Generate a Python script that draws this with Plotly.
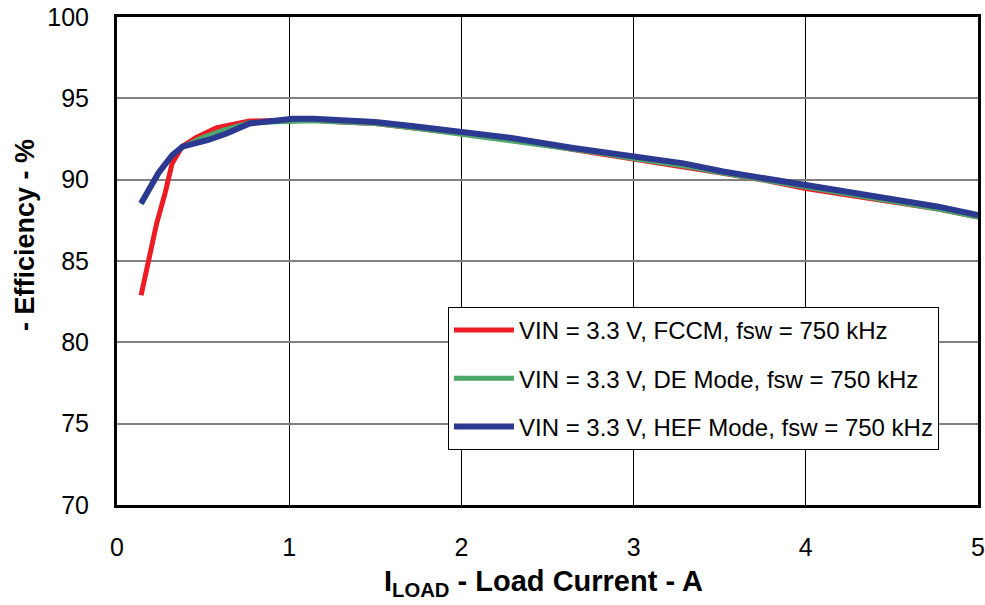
import plotly.graph_objects as go

# Load current (A)
x_fccm = [0.14, 0.18, 0.23, 0.28, 0.32, 0.38, 0.46, 0.58, 0.77, 1.0, 1.14, 1.3, 1.5, 1.75, 2.0, 2.3, 2.65, 2.8, 3.0, 3.29, 3.52, 3.77, 4.0, 4.28, 4.51, 4.77, 5.0]
y_fccm = [82.9, 85.0, 87.3, 89.2, 91.0, 92.05, 92.6, 93.2, 93.6, 93.65, 93.65, 93.55, 93.45, 93.15, 92.8, 92.45, 91.85, 91.6, 91.3, 90.85, 90.4, 89.95, 89.45, 89.0, 88.65, 88.2, 87.7]

x_de = [0.14, 0.24, 0.32, 0.38, 0.5, 0.62, 0.77, 1.0, 1.14, 1.3, 1.5, 1.75, 2.0, 2.3, 2.65, 2.8, 3.0, 3.29, 3.52, 3.77, 4.0, 4.28, 4.51, 4.77, 5.0]
y_de = [88.5, 90.4, 91.5, 92.0, 92.6, 93.05, 93.5, 93.62, 93.62, 93.55, 93.45, 93.15, 92.8, 92.4, 91.9, 91.65, 91.3, 90.85, 90.4, 89.95, 89.55, 89.05, 88.65, 88.2, 87.7]

x_hef = [0.14, 0.24, 0.32, 0.38, 0.53, 0.64, 0.77, 1.02, 1.14, 1.3, 1.5, 1.75, 2.0, 2.3, 2.65, 2.8, 3.0, 3.29, 3.52, 3.77, 4.0, 4.28, 4.51, 4.77, 5.0]
y_hef = [88.55, 90.4, 91.5, 92.03, 92.44, 92.85, 93.45, 93.75, 93.75, 93.63, 93.55, 93.25, 92.9, 92.55, 91.95, 91.72, 91.41, 91.0, 90.5, 90.05, 89.67, 89.16, 88.81, 88.34, 87.83]

names = ["VIN = 3.3 V, FCCM, fsw = 750 kHz",
         "VIN = 3.3 V, DE Mode, fsw = 750 kHz",
         "VIN = 3.3 V, HEF Mode, fsw = 750 kHz"]

x_ticks = [0, 1, 2, 3, 4, 5]
y_ticks = [70, 75, 80, 85, 90, 95, 100]

x_title = "<b>I<sub>LOAD</sub> - Load Current - A</b>"
y_title = "<b>- Efficiency - %</b>"

fig = go.Figure()
fig.add_trace(go.Scatter(x=x_fccm, y=y_fccm, mode="lines", name=names[0], legendgroup="a",
                         line=dict(color="#ED1C24", width=5)))
fig.add_trace(go.Scatter(x=x_de, y=y_de, mode="lines", name=names[1], legendgroup="b",
                         line=dict(color="#4EA76A", width=5)))
fig.add_trace(go.Scatter(x=x_hef, y=y_hef, mode="lines", name=names[2], legendgroup="c",
                         line=dict(color="#2B3990", width=6)))

font_main = "Liberation Sans, Arial, sans-serif"

fig.update_layout(
    width=985, height=605,
    margin=dict(l=117, r=7, t=17, b=100),
    paper_bgcolor="white", plot_bgcolor="white",
    font=dict(family=font_main, color="black", size=24),
    showlegend=True,
    legend=dict(
        x=0.3844, y=0.4057, xanchor="left", yanchor="top",
        bgcolor="white", bordercolor="black", borderwidth=1,
        font=dict(size=24, family=font_main, color="black"),
        tracegroupgap=14, itemwidth=60,
    ),
    xaxis=dict(
        range=[0, 5], tickvals=x_ticks, ticktext=[str(v) for v in x_ticks],
        showgrid=True, gridcolor="black", gridwidth=1,
        showline=True, linecolor="black", linewidth=3, mirror=True,
        ticks="", ticklabelstandoff=18, zeroline=False, automargin=False,
        ticklabeloverflow="allow",
        tickfont=dict(size=25),
    ),
    yaxis=dict(
        range=[70, 100], tickvals=y_ticks, ticktext=[str(v) for v in y_ticks],
        showgrid=True, gridcolor="#808080", gridwidth=2,
        showline=True, linecolor="black", linewidth=3, mirror=True,
        ticks="", ticklabelstandoff=20, zeroline=False, automargin=False,
        ticklabeloverflow="allow",
        tickfont=dict(size=25),
    ),
    annotations=[
        dict(text=x_title, xref="paper", yref="paper", x=0.495, y=-0.16,
             xanchor="center", yanchor="middle", showarrow=False,
             font=dict(size=29, family=font_main, color="black")),
        dict(text=y_title, xref="paper", yref="paper", x=-0.107, y=0.553,
             xanchor="center", yanchor="middle", showarrow=False, textangle=-90,
             font=dict(size=27, family=font_main, color="black")),
    ],
)

fig.write_html("out.html",
               config={"displayModeBar": False},
               post_script="document.body.style.margin='0';document.body.style.overflow='hidden';")
